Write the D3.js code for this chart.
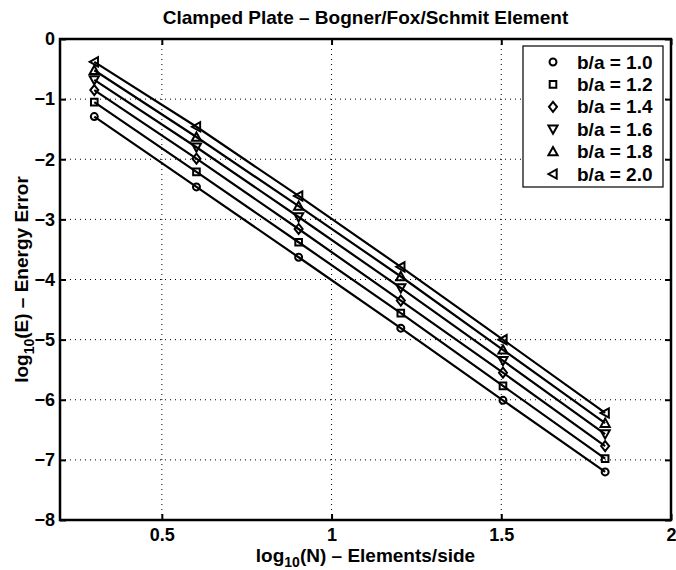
<!DOCTYPE html>
<html>
<head>
<meta charset="utf-8">
<script src="https://cdn.jsdelivr.net/npm/d3@7"></script>
<style>
  body { margin: 0; background: #fff; }
  text { font-family: "Liberation Sans", Arial, sans-serif; font-weight: bold; }
</style>
</head>
<body>
<div id="chart"></div>
<script>
// log10 of elements per side: N = 2, 4, 8, 16, 32, 64
const logN = [0.301, 0.602, 0.903, 1.204, 1.505, 1.806];
const ratios = ["1.0", "1.2", "1.4", "1.6", "1.8", "2.0"];
const err10 = [-1.29, -2.46, -3.63, -4.81, -6.01, -7.20];
const err12 = [-1.05, -2.21, -3.38, -4.56, -5.77, -6.98];
const err14 = [-0.85, -1.99, -3.16, -4.35, -5.55, -6.77];
const err16 = [-0.68, -1.80, -2.96, -4.14, -5.35, -6.57];
const err18 = [-0.52, -1.63, -2.78, -3.95, -5.17, -6.39];
const err20 = [-0.38, -1.46, -2.61, -3.79, -5.00, -6.22];
const xTicks = [0.5, 1, 1.5, 2];
const yTicks = [0, -1, -2, -3, -4, -5, -6, -7, -8];

const seriesList = [err10, err12, err14, err16, err18, err20];
const markers = ["circle", "square", "diamond", "down", "up", "left"];

const width = 676, height = 570;
const margin = { top: 39, right: 5, bottom: 50, left: 60 };

const svg = d3.select("#chart").append("svg")
  .attr("width", width).attr("height", height);

const x = d3.scaleLinear().domain([0.2, 2]).range([margin.left, width - margin.right]);
const y = d3.scaleLinear().domain([-8, 0]).range([height - margin.bottom, margin.top]);

// grid, dotted
const grid = svg.append("g").attr("stroke", "#000").attr("stroke-width", 1)
  .attr("stroke-dasharray", "1,4");
grid.selectAll(".gx").data(xTicks.slice(0, -1)).join("line")
  .attr("x1", d => x(d)).attr("x2", d => x(d))
  .attr("y1", y(-8)).attr("y2", y(0));
grid.selectAll(".gy").data(yTicks.slice(1, -1)).join("line")
  .attr("x1", x(0.2)).attr("x2", x(2))
  .attr("y1", d => y(d)).attr("y2", d => y(d));

// axes with inward ticks
const tk = 6;
const xAxis = svg.append("g").attr("transform", `translate(0,${y(-8)})`)
  .call(d3.axisBottom(x).tickValues(xTicks).tickSize(-tk).tickPadding(8).tickFormat(d3.format("")));
const yAxis = svg.append("g").attr("transform", `translate(${x(0.2)},0)`)
  .call(d3.axisLeft(y).tickValues(yTicks).tickSize(-tk).tickPadding(5).tickFormat(d => d < 0 ? "\u2212" + Math.abs(d) : d));
const xTop = svg.append("g").attr("transform", `translate(0,${y(0)})`)
  .call(d3.axisTop(x).tickValues(xTicks).tickSize(-tk).tickFormat(""));
const yRight = svg.append("g").attr("transform", `translate(${x(2)},0)`)
  .call(d3.axisRight(y).tickValues(yTicks).tickSize(-tk).tickFormat(""));
[xAxis, yAxis, xTop, yRight].forEach(g => {
  g.select(".domain").remove();
  g.selectAll("line").attr("stroke-width", 2);
  g.selectAll("text").style("font-size", "18px").attr("fill", "#000");
});

// box
svg.append("rect")
  .attr("x", x(0.2)).attr("y", y(0))
  .attr("width", x(2) - x(0.2)).attr("height", y(-8) - y(0))
  .attr("fill", "none").attr("stroke", "#000").attr("stroke-width", 2.5);

function markerPath(type) {
  if (type === "circle") return d3.symbol(d3.symbolCircle, 38)();
  if (type === "square") return "M-3.3,-3.3h6.6v6.6h-6.6Z";
  if (type === "diamond") return "M0,-5L4,0L0,5L-4,0Z";
  const h = 4.6;
  if (type === "up") return `M0,${-h}L${h},${h * 0.8}L${-h},${h * 0.8}Z`;
  if (type === "down") return `M0,${h}L${h},${-h * 0.8}L${-h},${-h * 0.8}Z`;
  return `M${-h},0L${h * 0.8},${-h}L${h * 0.8},${h}Z`;
}

const line = d3.line().x((d, i) => x(logN[i])).y(d => y(d));

seriesList.forEach((vals, k) => {
  svg.append("path").datum(vals).attr("d", line)
    .attr("fill", "none").attr("stroke", "#000").attr("stroke-width", 2.2);
  svg.selectAll(null).data(vals).join("path")
    .attr("transform", (d, i) => `translate(${x(logN[i])},${y(d)})`)
    .attr("d", markerPath(markers[k]))
    .attr("fill", "none").attr("stroke", "#000").attr("stroke-width", 2);
});

// legend
const lg = svg.append("g");
lg.append("rect").attr("x", 523).attr("y", 46).attr("width", 140).attr("height", 141)
  .attr("fill", "#fff").attr("stroke", "#000").attr("stroke-width", 1.2);
ratios.forEach((r, i) => {
  const cy = 62 + i * 22.4;
  lg.append("path").attr("transform", `translate(553,${cy})`)
    .attr("d", markerPath(markers[i]))
    .attr("fill", "none").attr("stroke", "#000").attr("stroke-width", 2);
  lg.append("text").attr("x", 577).attr("y", cy + 6.5)
    .style("font-size", "19px").text("b/a = " + r);
});

// title and labels
svg.append("text").attr("x", (x(0.2) + x(2)) / 2).attr("y", 24)
  .attr("text-anchor", "middle").style("font-size", "19px")
  .text("Clamped Plate \u2013 Bogner/Fox/Schmit Element");

const xl = svg.append("text").attr("x", (x(0.2) + x(2)) / 2).attr("y", 562)
  .attr("text-anchor", "middle").style("font-size", "19px");
xl.append("tspan").text("log");
xl.append("tspan").attr("dy", 5).style("font-size", "14px").text("10");
xl.append("tspan").attr("dy", -5).text("(N) \u2013 Elements/side");

const yl = svg.append("text")
  .attr("transform", `translate(28,${(y(0) + y(-8)) / 2}) rotate(-90)`)
  .attr("text-anchor", "middle").style("font-size", "19px");
yl.append("tspan").text("log");
yl.append("tspan").attr("dy", 6).style("font-size", "14px").text("10");
yl.append("tspan").attr("dy", -6).text("(E) \u2013 Energy Error");
</script>
</body>
</html>
